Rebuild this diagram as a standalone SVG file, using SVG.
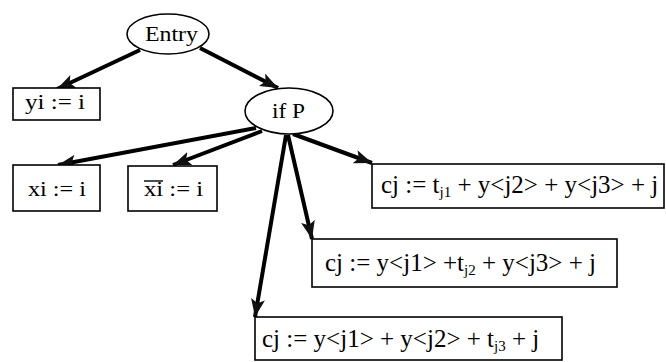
<svg xmlns="http://www.w3.org/2000/svg" width="666" height="362" viewBox="0 0 666 362">
<style>
text{font-family:"Liberation Serif","Times New Roman",serif;font-size:22px;fill:#000}
.big{font-size:25px}
.sub{font-size:15px}
.box{fill:#fff;stroke:#000;stroke-width:1.6}
.ell{fill:#fff;stroke:#000;stroke-width:1.6}
.edge{stroke:#000;stroke-width:4;fill:none;marker-end:url(#ah)}
</style>
<defs>
<marker id="ah" markerUnits="userSpaceOnUse" markerWidth="20" markerHeight="14" refX="18" refY="7" orient="auto">
<path d="M0,0 L18,7 L0,14 L4,7 z" fill="#111"/>
</marker>
</defs>
<rect width="666" height="362" fill="#fff"/>
<g id="connectors">
<line class="edge" x1="140" y1="50" x2="57" y2="89"/>
<line class="edge" x1="200" y1="48" x2="278" y2="88"/>
<line class="edge" x1="256" y1="128" x2="58" y2="165"/>
<line class="edge" x1="262" y1="131" x2="173" y2="165"/>
<line class="edge" x1="293" y1="134" x2="372" y2="163"/>
<line class="edge" x1="288" y1="135" x2="312" y2="239"/>
<line class="edge" x1="286" y1="135" x2="255" y2="317"/>
</g>
<g id="entry">
<ellipse class="ell" cx="168" cy="34" rx="41" ry="20"/>
<text x="145" y="41" textLength="53" lengthAdjust="spacingAndGlyphs">Entry</text>
</g>
<g id="yi">
<rect class="box" x="13" y="88" width="87" height="32"/>
<text x="25" y="109" textLength="60" lengthAdjust="spacingAndGlyphs">yi := i</text>
</g>
<g id="ifp">
<ellipse class="ell" cx="289" cy="111" rx="44" ry="23"/>
<text x="272" y="118" textLength="33" lengthAdjust="spacingAndGlyphs">if P</text>
</g>
<g id="xi">
<rect class="box" x="13" y="165" width="87" height="46"/>
<text x="28" y="196" textLength="58" lengthAdjust="spacingAndGlyphs">xi := i</text>
</g>
<g id="xibar">
<rect class="box" x="128" y="166" width="89" height="45"/>
<text x="144" y="196" textLength="59" lengthAdjust="spacingAndGlyphs">xi := i</text>
<line x1="144" y1="181" x2="163" y2="181" stroke="#000" stroke-width="1.4"/>
</g>
<g id="cj1">
<rect class="box" x="372" y="164" width="292" height="44"/>
<text class="big" x="381" y="193">cj := t<tspan class="sub" dy="4">j1</tspan><tspan dy="-4"> + y&lt;j2&gt; + y&lt;j3&gt; + j</tspan></text>
</g>
<g id="cj2">
<rect class="box" x="312" y="239" width="305" height="48"/>
<text class="big" x="325" y="271">cj := y&lt;j1&gt; +t<tspan class="sub" dy="4">j2</tspan><tspan dy="-4"> + y&lt;j3&gt; + j</tspan></text>
</g>
<g id="cj3">
<rect class="box" x="255" y="317" width="307" height="43"/>
<text class="big" x="262" y="347">cj := y&lt;j1&gt; + y&lt;j2&gt; + t<tspan class="sub" dy="4">j3</tspan><tspan dy="-4"> + j</tspan></text>
</g>
</svg>
